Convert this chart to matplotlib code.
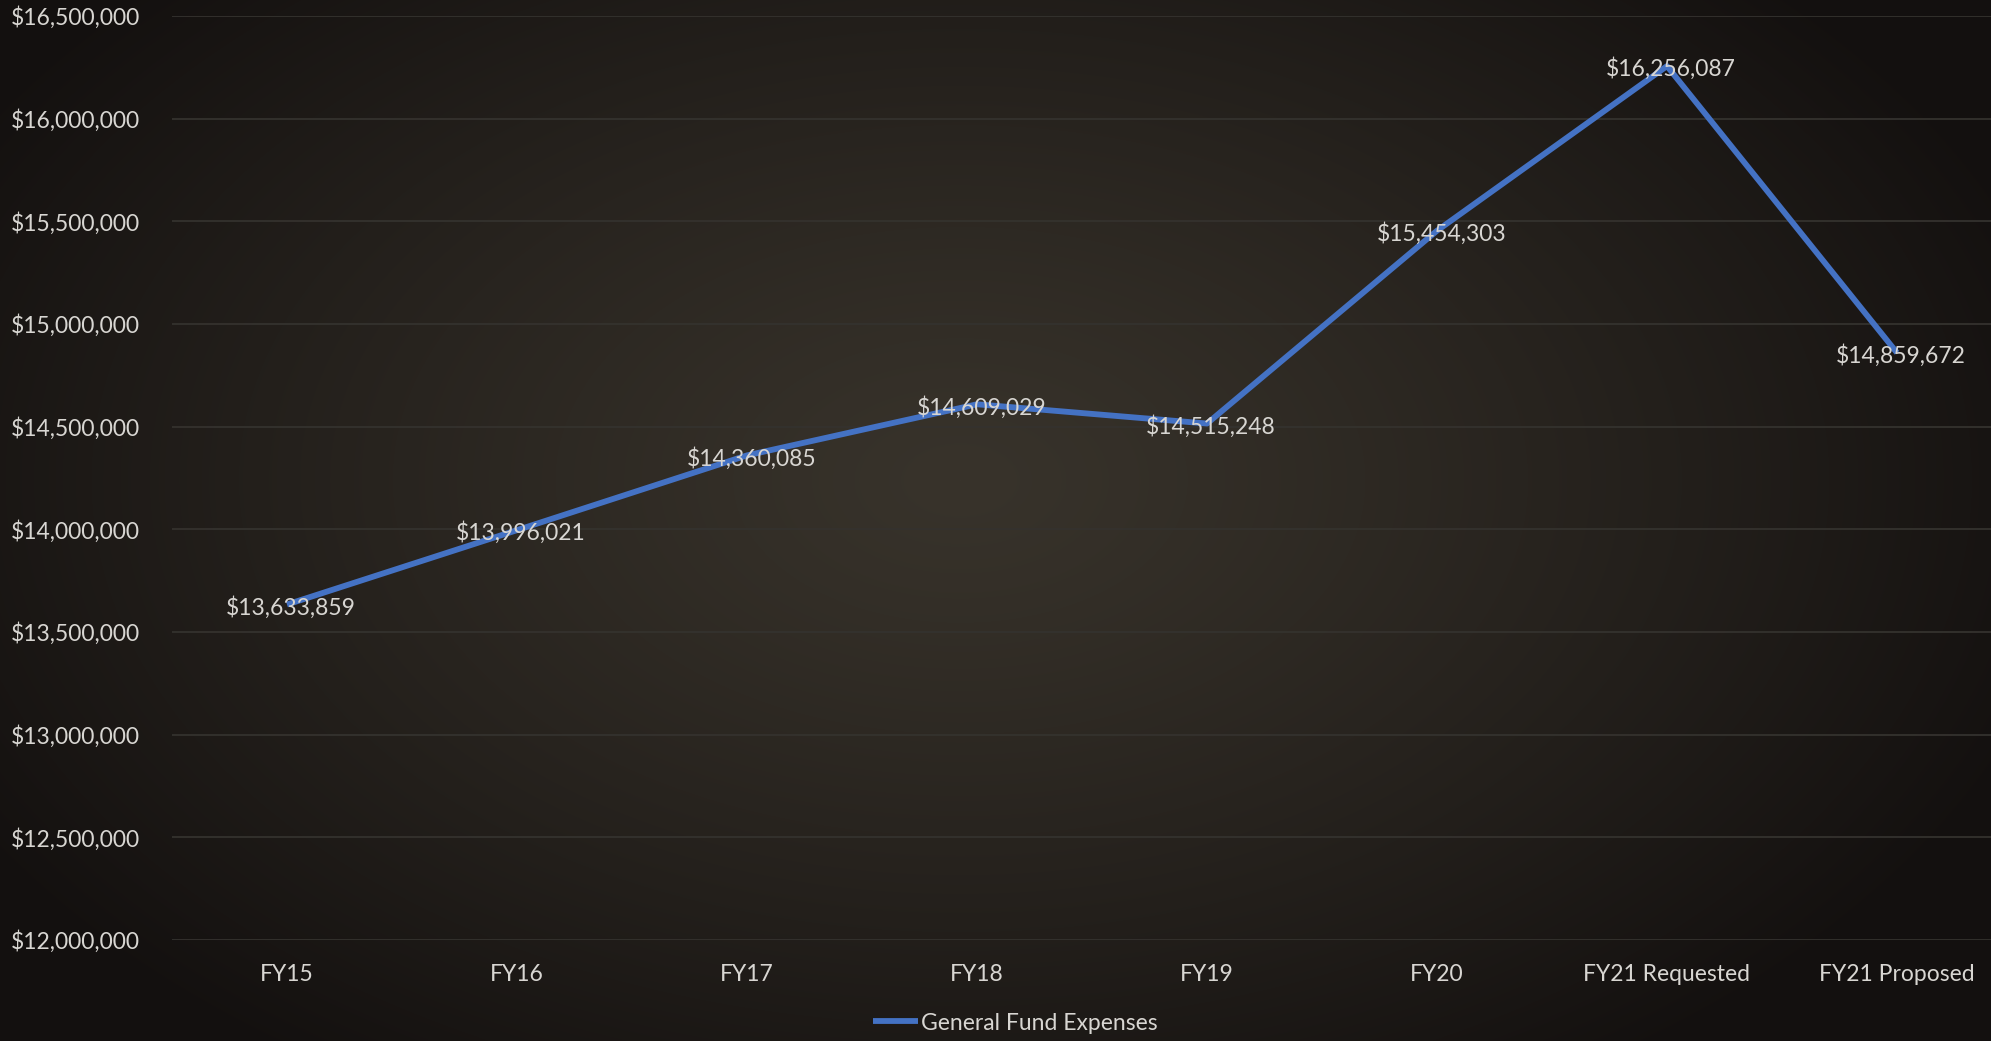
import numpy as np
import matplotlib
matplotlib.use("Agg")
import matplotlib.pyplot as plt
from matplotlib.ticker import FuncFormatter, MultipleLocator

categories = ["FY15", "FY16", "FY17", "FY18", "FY19", "FY20",
              "FY21 Requested", "FY21 Proposed"]
expenses = [13633859, 13996021, 14360085, 14609029, 14515248,
            15454303, 16256087, 14859672]
series_name = "General Fund Expenses"

TEXT = "#d8d6d2"
LINE = "#4472c4"
GRID = "#34322e"

plt.rcParams["font.family"] = ["Lato", "DejaVu Sans"]

W, H = 1991, 1041
fig = plt.figure(figsize=(W / 100, H / 100), dpi=100)

# radial dark-brown backdrop, lighter toward the middle
bg = fig.add_axes([0, 0, 1, 1], zorder=-10)
yy, xx = np.mgrid[0:H, 0:W]
r = np.sqrt(((xx - 960) / 1150.0) ** 2 + ((yy - 480) / 720.0) ** 2)
t = np.clip(r, 0, 1) ** 1.2
c_in = np.array([0x38, 0x33, 0x2b]) / 255
c_out = np.array([0x13, 0x10, 0x0f]) / 255
img = c_in[None, None, :] * (1 - t[..., None]) + c_out[None, None, :] * t[..., None]
bg.imshow(img, aspect="auto", extent=[0, 1, 0, 1], origin="upper")
bg.axis("off")

ax = fig.add_axes([172 / W, 101 / H, (2012 - 172) / W, (940 - 16) / H])
ax.patch.set_alpha(0)
x = np.arange(len(categories))
ax.plot(x, expenses, color=LINE, lw=4.2, solid_joinstyle="round",
        solid_capstyle="butt", label=series_name, zorder=3)

for xi, v in zip(x, expenses):
    ax.annotate(f"${v:,.0f}", (xi, v), xytext=(3, -2),
                textcoords="offset points", ha="center", va="center",
                color=TEXT, fontsize=16.5, zorder=4)

ax.set_xlim(-0.5, len(categories) - 0.5)
ax.set_ylim(12000000, 16500000)
ax.yaxis.set_major_locator(MultipleLocator(500000))
ax.yaxis.set_major_formatter(FuncFormatter(lambda v, p: f"${v:,.0f}"))
ax.set_xticks(x)
ax.set_xticklabels(categories)
ax.tick_params(axis="both", length=0, colors=TEXT, labelsize=16.5)
ax.tick_params(axis="y", pad=116)
for lbl in ax.get_yticklabels():
    lbl.set_horizontalalignment("left")
ax.tick_params(axis="x", pad=17)
ax.grid(axis="y", color=GRID, lw=1.3)
ax.set_axisbelow(True)
for s in ax.spines.values():
    s.set_visible(False)

leg = fig.legend(loc="center", bbox_to_anchor=(1015 / W, 1 - 1023 / H),
                 frameon=False, fontsize=16.5, handlelength=2.0,
                 handletextpad=0.1, labelcolor=TEXT)

fig.savefig("out.png", dpi=100)
